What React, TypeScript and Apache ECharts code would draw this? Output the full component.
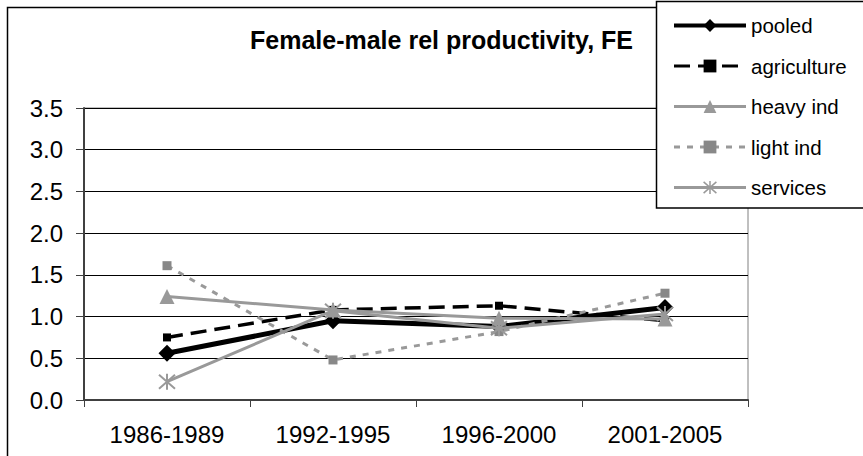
import React, { useEffect, useRef } from "react";
import * as echarts from "echarts";

const categories = ["1986-1989", "1992-1995", "1996-2000", "2001-2005"];
const pooled = [0.56, 0.95, 0.88, 1.11];
const agriculture = [0.75, 1.08, 1.13, 0.95];
const heavyInd = [1.24, 1.08, 0.98, 0.97];
const lightInd = [1.61, 0.48, 0.82, 1.28];
const services = [0.22, 1.07, 0.86, 1.03];
const seriesNames = ["pooled", "agriculture", "heavy ind", "light ind", "services"];
const titleText = "Female-male rel productivity, FE";

const asterisk = "path://M0,-8L0,8M-7,-7L7,7M-7,7L7,-7";

export default function App() {
  const ref = useRef<HTMLDivElement>(null);
  useEffect(() => {
    document.body.style.margin = "0";
    const chart = echarts.init(ref.current!, null, { renderer: "svg" });
    const font = "Liberation Sans";
    const gray = "#999999";
    const styles = [
      { symbol: "diamond", symbolSize: 17, color: "#000", line: { color: "#000", width: 5 } },
      { symbol: "rect", symbolSize: 8, color: "#000", line: { color: "#000", width: 3.5, type: [16, 8] } },
      { symbol: "triangle", symbolSize: 15, color: gray, line: { color: gray, width: 3 } },
      { symbol: "rect", symbolSize: 9, color: "#888888", line: { color: gray, width: 3, type: [6, 7] } },
      { symbol: asterisk, symbolSize: 16, color: gray, line: { color: gray, width: 3 } },
    ];
    const values = [pooled, agriculture, heavyInd, lightInd, services];
    chart.setOption({
      animation: false,
      backgroundColor: "#ffffff",
      textStyle: { fontFamily: font },
      title: {
        text: titleText,
        left: 250,
        top: 27,
        padding: 0,
        textStyle: { fontSize: 25, fontWeight: "bold", color: "#000", fontFamily: font },
      },
      grid: {
        left: 84,
        right: 115,
        top: 108,
        bottom: 56,
        show: true,
        borderColor: "#808080",
        borderWidth: 1,
        backgroundColor: "transparent",
      },
      legend: {
        orient: "vertical",
        left: 672,
        top: 15,
        padding: 0,
        itemWidth: 72,
        itemHeight: 16,
        itemGap: 19.5,
        z: 10,
        textStyle: { fontSize: 20.5, color: "#000", fontFamily: font },
        data: seriesNames.map((n, i) => ({
          name: n,
          lineStyle: { ...styles[i].line, width: i === 0 ? 4 : 3 },
          itemStyle:
            i === 4
              ? { color: gray, borderColor: gray, borderWidth: 1.5 }
              : { color: styles[i].color },
        })),
      },
      xAxis: {
        type: "category",
        data: categories,
        boundaryGap: true,
        axisLine: { lineStyle: { color: "#404040", width: 2 } },
        axisTick: { show: true, length: 7, lineStyle: { color: "#404040", width: 1 } },
        axisLabel: { fontSize: 24, color: "#000", margin: 22, fontFamily: font },
        splitLine: { show: false },
      },
      yAxis: {
        type: "value",
        min: 0,
        max: 3.5,
        interval: 0.5,
        axisLine: { show: true, lineStyle: { color: "#404040", width: 2 } },
        axisTick: { show: true, length: 8, lineStyle: { color: "#404040", width: 1 } },
        axisLabel: {
          fontSize: 24,
          color: "#000",
          margin: 21,
          fontFamily: font,
          formatter: (v: number) => v.toFixed(1),
        },
        splitLine: { show: true, lineStyle: { color: "#000", width: 1 } },
      },
      graphic: [
        {
          type: "rect",
          z: -10,
          shape: { x: 7.5, y: 7.5, width: 900, height: 500 },
          style: { fill: "none", stroke: "#000", lineWidth: 1.5 },
        },
        {
          type: "rect",
          z: 8,
          shape: { x: 656.5, y: 1.5, width: 230, height: 206.5 },
          style: { fill: "#fff", stroke: "#000", lineWidth: 1.5 },
        },
      ],
      series: seriesNames.map((n, i) => ({
        name: n,
        type: "line",
        data: values[i],
        symbol: styles[i].symbol,
        symbolSize: styles[i].symbolSize,
        itemStyle:
          i === 4
            ? { color: gray, borderColor: gray, borderWidth: 2 }
            : { color: styles[i].color },
        lineStyle: styles[i].line,
        z: 2 + i,
      })),
    });
    return () => chart.dispose();
  }, []);
  return <div ref={ref} style={{ width: 863, height: 456 }} />;
}
